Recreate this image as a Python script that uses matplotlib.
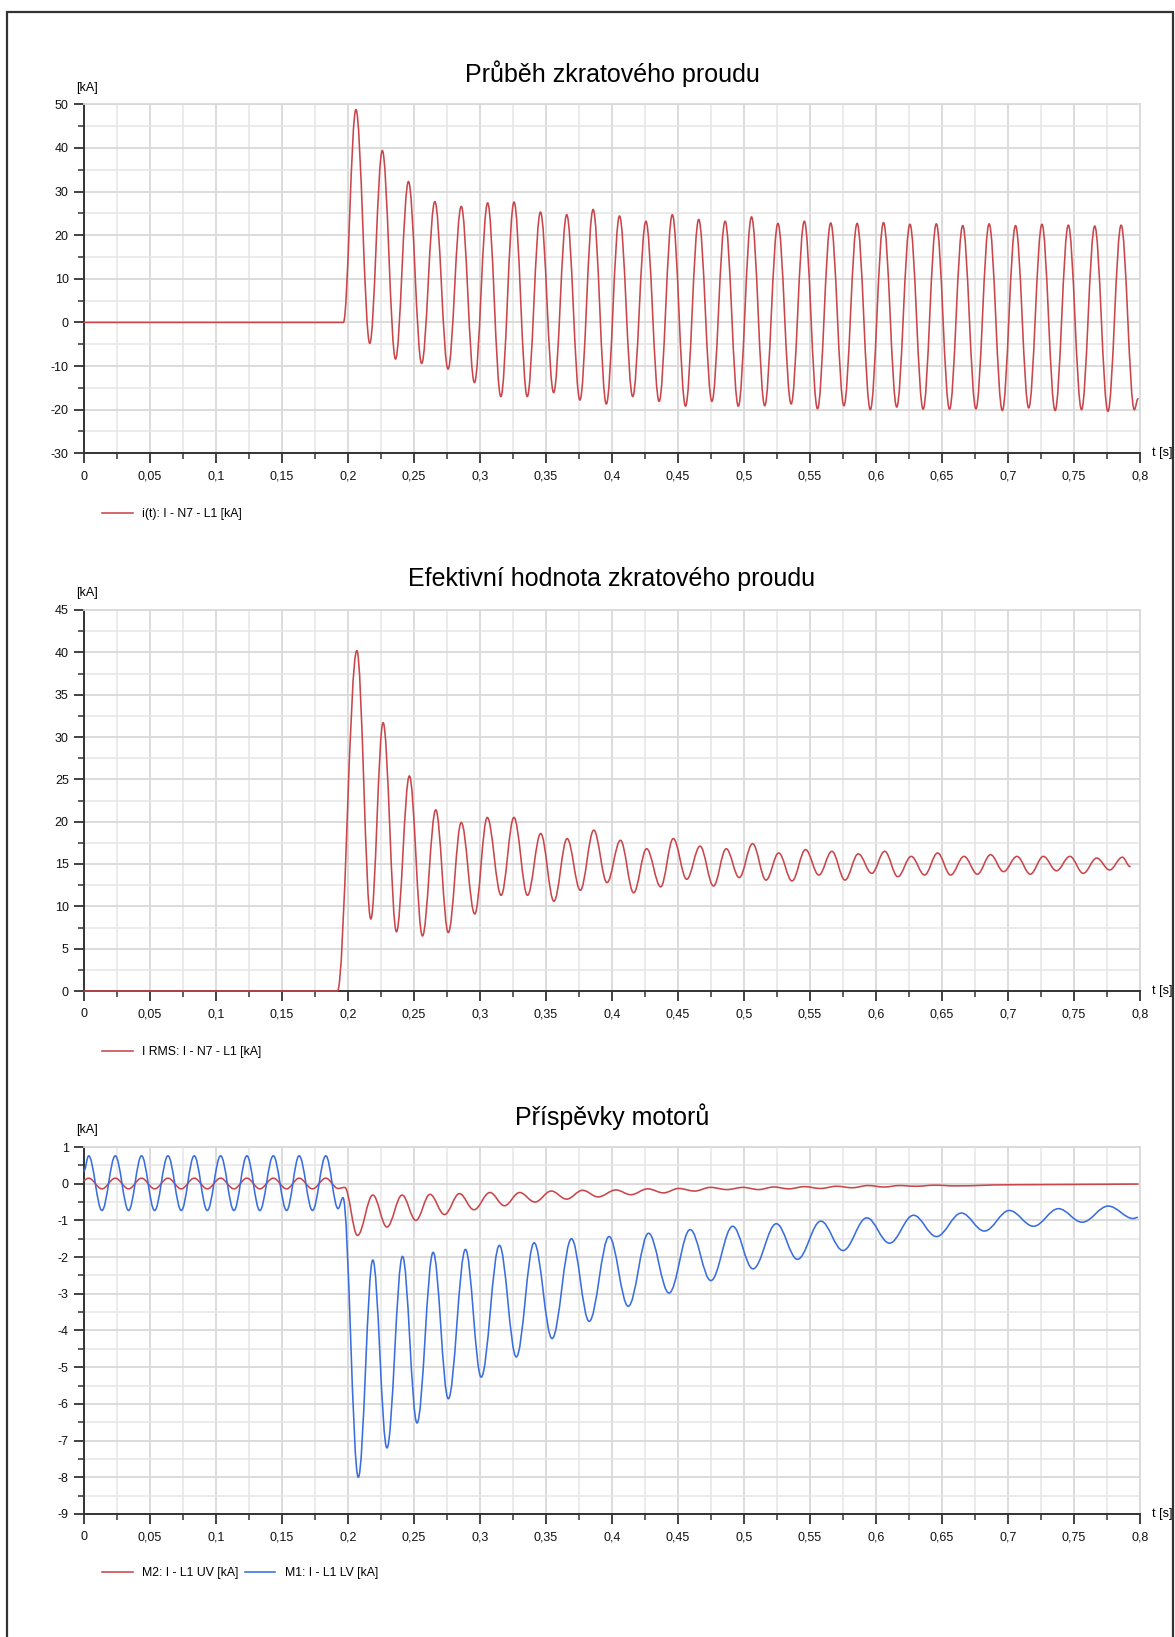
import numpy as np
import matplotlib.pyplot as plt
from matplotlib.path import Path
from matplotlib.patches import PathPatch, Rectangle
from matplotlib.lines import Line2D
from matplotlib.ticker import MultipleLocator, FuncFormatter

plt.rcParams['font.family'] = ['Liberation Sans', 'DejaVu Sans']

# --- data (extrema of the waveforms) ---
# i(t): I - N7 - L1 [kA]
i_start_t = [0.0, 0.1965]
i_start_v = [0.0, 0.0]
i_peak_t = [0.206, 0.226, 0.2458, 0.2658, 0.2858, 0.3058, 0.3258, 0.3458, 0.3657, 0.3857,
            0.4057, 0.4257, 0.4457, 0.4657, 0.4857, 0.5057, 0.5257, 0.5457, 0.5657, 0.5857,
            0.6057, 0.6257, 0.6457, 0.6657, 0.6857, 0.7057, 0.7257, 0.7457, 0.7657, 0.7857]
i_peak_v = [48.8, 39.4, 32.3, 27.7, 26.6, 27.4, 27.6, 25.3, 24.7, 25.9,
            24.4, 23.2, 24.7, 23.6, 23.2, 24.2, 22.7, 23.2, 22.8, 22.7,
            22.9, 22.5, 22.6, 22.2, 22.6, 22.2, 22.5, 22.3, 22.1, 22.3]
i_trough_t = [0.2165, 0.236, 0.2558, 0.2758, 0.2958, 0.3158, 0.3358, 0.3558, 0.3757, 0.3957,
              0.4157, 0.4357, 0.4557, 0.4757, 0.4957, 0.5157, 0.5357, 0.5557, 0.5757, 0.5957,
              0.6157, 0.6357, 0.6557, 0.6757, 0.6957, 0.7157, 0.7357, 0.7557, 0.7757, 0.7957]
i_trough_v = [-4.8, -8.4, -9.4, -10.7, -13.8, -17.0, -17.0, -16.1, -17.8, -18.7,
              -17.0, -18.1, -19.2, -18.1, -19.2, -19.1, -18.7, -19.8, -19.1, -20.0,
              -19.4, -19.9, -19.9, -19.8, -20.2, -19.6, -20.2, -20.0, -20.4, -20.0]
i_end_t, i_end_v = 0.7985, -17.5

# I RMS: I - N7 - L1 [kA]
rms_t = [0.0, 0.192, 0.2067, 0.2173, 0.2266, 0.2367, 0.2465, 0.2564, 0.2665, 0.276,
         0.2858, 0.296, 0.3055, 0.316, 0.3257, 0.336, 0.346, 0.356, 0.366, 0.376,
         0.3862, 0.3962, 0.4064, 0.4164, 0.4262, 0.4369, 0.4464, 0.4566, 0.4667, 0.4769,
         0.4865, 0.4964, 0.5065, 0.5167, 0.5263, 0.5364, 0.5466, 0.5567, 0.5666, 0.5765,
         0.5866, 0.5968, 0.6066, 0.6165, 0.6267, 0.6368, 0.6467, 0.6565, 0.6667, 0.6768,
         0.6868, 0.6966, 0.7068, 0.7169, 0.7268, 0.7367, 0.7469, 0.757, 0.7672, 0.777,
         0.7866, 0.7925]
rms_v = [0.0, 0.0, 40.2, 8.5, 31.7, 7.0, 25.4, 6.5, 21.4, 6.9,
         19.9, 9.1, 20.5, 11.3, 20.5, 11.3, 18.6, 10.6, 18.0, 11.9,
         19.0, 12.8, 17.8, 11.6, 16.8, 12.3, 18.0, 13.2, 17.1, 12.4,
         16.8, 13.4, 17.4, 13.1, 16.3, 13.0, 16.7, 13.7, 16.5, 13.1,
         16.2, 13.9, 16.5, 13.5, 15.9, 13.7, 16.3, 13.7, 15.9, 13.8,
         16.1, 14.1, 15.9, 13.8, 15.9, 14.2, 15.9, 13.9, 15.7, 14.3,
         15.8, 14.7]

# M1: I - L1 LV [kA]
m1_t = [0.0, 0.0035, 0.0136, 0.0237, 0.0338, 0.0436, 0.0535, 0.0636, 0.0737, 0.0835,
        0.0934, 0.1035, 0.1136, 0.1234, 0.1332, 0.1434, 0.1535, 0.163, 0.1731, 0.1832,
        0.1925, 0.1962, 0.2078, 0.2188, 0.2295, 0.2413, 0.2523, 0.2645, 0.276, 0.289,
        0.3009, 0.3147, 0.3275, 0.341, 0.3546, 0.3693, 0.3827, 0.3978, 0.4123, 0.4277,
        0.4432, 0.4592, 0.4749, 0.4914, 0.5068, 0.5245, 0.5405, 0.5582, 0.575, 0.593,
        0.6102, 0.6284, 0.6458, 0.6647, 0.6821, 0.701, 0.7193, 0.7382, 0.7562, 0.7759,
        0.795, 0.798]
m1_v = [0.35, 0.76, -0.73, 0.76, -0.73, 0.76, -0.73, 0.76, -0.73, 0.76,
        -0.73, 0.76, -0.73, 0.76, -0.73, 0.76, -0.73, 0.76, -0.73, 0.76,
        -0.68, -0.38, -8.0, -2.08, -7.2, -1.98, -6.52, -1.87, -5.86, -1.79,
        -5.27, -1.68, -4.72, -1.61, -4.22, -1.50, -3.75, -1.44, -3.34, -1.35,
        -2.98, -1.25, -2.64, -1.16, -2.32, -1.09, -2.06, -1.02, -1.82, -0.93,
        -1.62, -0.86, -1.44, -0.80, -1.29, -0.73, -1.16, -0.68, -1.05, -0.61,
        -0.95, -0.92]

# M2: I - L1 UV [kA]
m2_t = [0.0, 0.0035, 0.0136, 0.0237, 0.0338, 0.0436, 0.0535, 0.0636, 0.0737, 0.0835,
        0.0934, 0.1035, 0.1136, 0.1234, 0.1332, 0.1434, 0.1535, 0.163, 0.1731, 0.1832,
        0.1925, 0.1975, 0.2072, 0.2188, 0.2295, 0.241, 0.2514, 0.2621, 0.2731, 0.2844,
        0.2954, 0.3075, 0.3185, 0.330, 0.3416, 0.354, 0.3656, 0.3777, 0.3895, 0.403,
        0.4142, 0.4271, 0.439, 0.4505, 0.4625, 0.4746, 0.487, 0.4993, 0.511, 0.5225,
        0.534, 0.5457, 0.558, 0.570, 0.582, 0.594, 0.606, 0.618, 0.630, 0.645,
        0.660, 0.700, 0.750, 0.7985]
m2_v = [0.10, 0.15, -0.14, 0.15, -0.14, 0.15, -0.14, 0.15, -0.14, 0.15,
        -0.14, 0.15, -0.14, 0.15, -0.14, 0.15, -0.14, 0.15, -0.14, 0.15,
        -0.13, -0.10, -1.41, -0.31, -1.18, -0.31, -1.00, -0.29, -0.84, -0.27,
        -0.71, -0.24, -0.60, -0.24, -0.50, -0.20, -0.42, -0.18, -0.36, -0.17,
        -0.30, -0.14, -0.25, -0.13, -0.20, -0.10, -0.16, -0.10, -0.16, -0.09,
        -0.14, -0.08, -0.13, -0.07, -0.11, -0.05, -0.09, -0.05, -0.07, -0.04,
        -0.06, -0.03, -0.02, -0.01]

tituly = ['Průběh zkratového proudu', 'Efektivní hodnota zkratového proudu', 'Příspěvky motorů']
popisky = [['i(t): I - N7 - L1 [kA]'], ['I RMS: I - N7 - L1 [kA]'],
           ['M2: I - L1 UV [kA]', 'M1: I - L1 LV [kA]']]

CERVENA = '#c9464b'
MODRA = '#3a6ede'


def krivka(t, v, k=0.3642):
    # smooth line through the read extrema (bezier, flat tangent at every point)
    verts = [(t[0], v[0])]
    codes = [Path.MOVETO]
    for j in range(1, len(t)):
        dt = t[j] - t[j - 1]
        verts += [(t[j - 1] + k * dt, v[j - 1]), (t[j] - k * dt, v[j]), (t[j], v[j])]
        codes += [Path.CURVE4] * 3
    return Path(verts, codes)


def nakresli(ax, t, v, barva):
    p = PathPatch(krivka(t, v), facecolor='none', edgecolor=barva, lw=1.15,
                  zorder=3, clip_on=False, joinstyle='round', capstyle='round')
    ax.add_patch(p)


# interleave panel 1 extrema
i_t = list(i_start_t)
i_v = list(i_start_v)
for a, b, c, d in zip(i_peak_t, i_peak_v, i_trough_t, i_trough_v):
    i_t += [a, c]
    i_v += [b, d]
i_t.append(i_end_t)
i_v.append(i_end_v)

W, H = 1175, 1637
fig = plt.figure(figsize=(W / 100, H / 100), dpi=100)

# axes boxes in pixels: top, bottom
boxy = [(104.3, 453.3), (610, 991), (1147, 1514)]
limity = [(-30, 50, 10, 5), (0, 45, 5, 2.5), (-9, 1, 1, 0.5)]
leg_y = [514, 1052, 1573]
x0, x1 = 84, 1140

fmt = FuncFormatter(lambda x, p: f'{x:g}'.replace('.', ','))
osy = []
for n in range(3):
    top, bot = boxy[n]
    ax = fig.add_axes([x0 / W, 1 - bot / H, (x1 - x0) / W, (bot - top) / H])
    osy.append(ax)
    lo, hi, maj, mn = limity[n]
    ax.set_xlim(0, 0.8)
    ax.set_ylim(lo, hi)
    ax.xaxis.set_major_locator(MultipleLocator(0.05))
    ax.xaxis.set_minor_locator(MultipleLocator(0.025))
    ax.yaxis.set_major_locator(MultipleLocator(maj))
    ax.yaxis.set_minor_locator(MultipleLocator(mn))
    ax.xaxis.set_major_formatter(fmt)
    ax.yaxis.set_major_formatter(fmt)
    ax.set_axisbelow(True)
    ax.grid(which='major', color='#d9d9d9', lw=1.3)
    ax.grid(which='minor', color='#e6e6e6', lw=1.1)
    for s in ['left', 'bottom']:
        ax.spines[s].set_color('#333333')
        ax.spines[s].set_linewidth(1.4)
    for s in ['top', 'right']:
        ax.spines[s].set_color('#d9d9d9')
        ax.spines[s].set_linewidth(1.3)
    ax.tick_params(which='major', length=7, width=1.3, color='#333333',
                   labelsize=9, labelcolor='#111111')
    ax.tick_params(axis='x', which='major', pad=5.5)
    ax.tick_params(axis='y', which='major', pad=4)
    ax.tick_params(which='minor', length=4, width=1.1, color='#333333')
    ax.annotate('[kA]', xy=(0, 1), xycoords='axes fraction', xytext=(2.5, 12),
                textcoords='offset points', ha='center', va='center', fontsize=9)
    ax.annotate('t [s]', xy=(1, 0), xycoords='axes fraction', xytext=(8.5, 0),
                textcoords='offset points', ha='left', va='center', fontsize=9)
    ax.annotate(tituly[n], xy=(0.5, 1), xycoords='axes fraction', xytext=(0, 22),
                textcoords='offset points', ha='center', va='center', fontsize=18)

nakresli(osy[0], i_t, i_v, CERVENA)
nakresli(osy[1], rms_t, rms_v, CERVENA)
nakresli(osy[2], m2_t, m2_v, CERVENA)
nakresli(osy[2], m1_t, m1_v, MODRA)

barvy = [[CERVENA], [CERVENA], [CERVENA, MODRA]]
for n in range(3):
    handles = [Line2D([], [], color=c, lw=1.15) for c in barvy[n]]
    osy[n].legend(handles, popisky[n], loc='center left',
                  bbox_to_anchor=(96 / W, 1 - leg_y[n] / H), bbox_transform=fig.transFigure,
                  frameon=False, ncol=len(handles), fontsize=8.8, borderpad=0,
                  handlelength=2.5, handletextpad=0.8, columnspacing=0.5)

# outer frame
fig.add_artist(Rectangle((7 / W, -0.02), (1173 - 7) / W, 1 + 0.02 - 12 / H,
                         transform=fig.transFigure, fill=False, ec='#333333', lw=1.6))

fig.savefig('out.png', dpi=100)
